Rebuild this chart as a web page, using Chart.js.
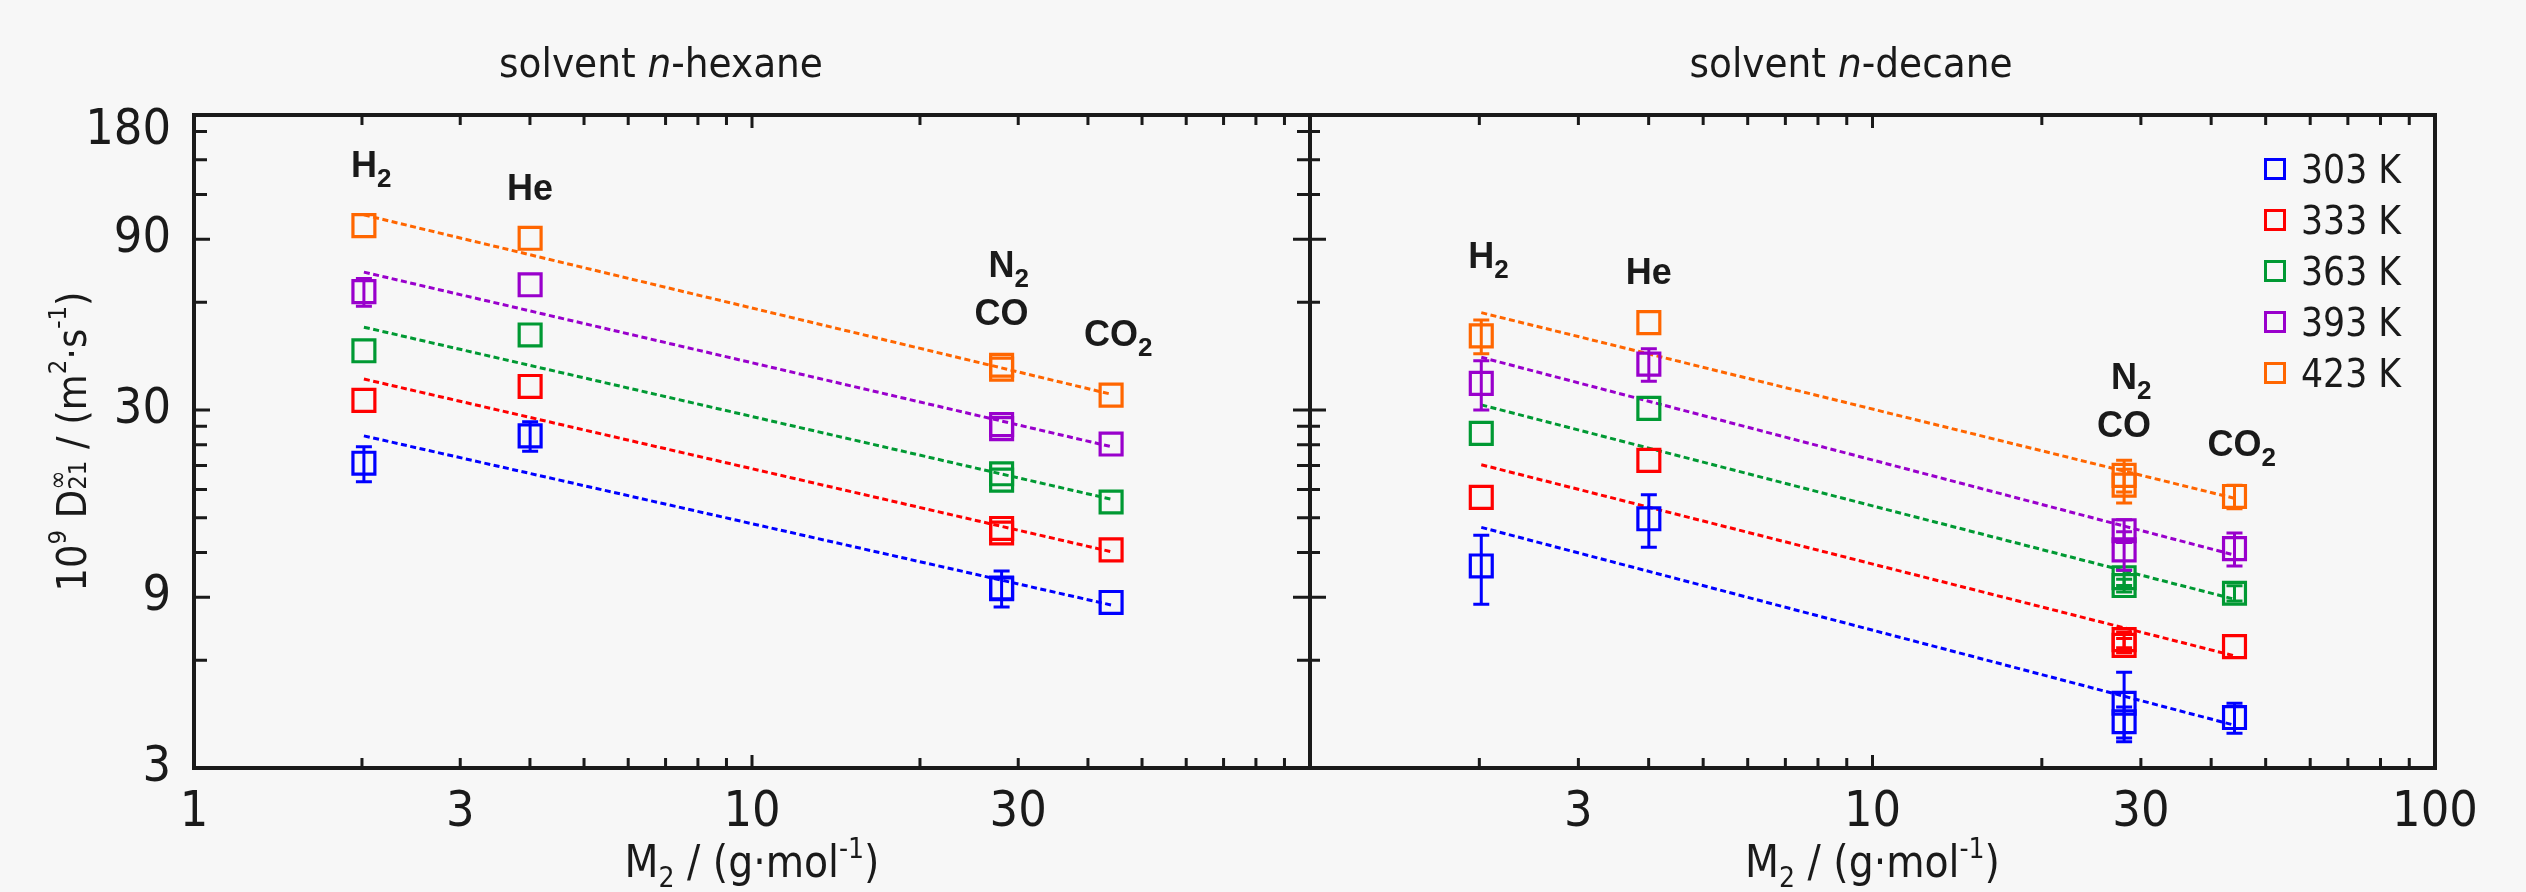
<!DOCTYPE html>
<html>
<head>
<meta charset="utf-8">
<script src="https://cdn.jsdelivr.net/npm/chart.js@4.4.1/dist/chart.umd.min.js"></script>
<style>
  html, body { margin: 0; padding: 0; background: #f7f7f7; }
  #wrap { position: relative; width: 2526px; height: 892px; }
  canvas { position: absolute; left: 0; top: 0; }
</style>
</head>
<body>
<div id="wrap">
  <canvas id="hexane" width="2526" height="892"></canvas>
  <canvas id="decane" width="2526" height="892"></canvas>
</div>
<script>
// solutes: H2, He, N2, CO, CO2 (molar mass in g/mol)
const gases = ['H2', 'He', 'N2', 'CO', 'CO2'];
const molarMass = [2.016, 4.003, 28.01, 28.01, 44.01];
const temperatures = [303, 333, 363, 393, 423];
const colors = ['#0000ff', '#ff0000', '#009933', '#9900cc', '#ff6600'];

// solvent n-hexane, 10^9 D21 / (m2/s)
const hexane303 = [21.3, 25.4, 9.55, 9.5, 8.7];
const hexane333 = [31.9, 34.9, 14.0, 13.6, 12.2];
const hexane363 = [43.9, 48.6, 19.9, 19.1, 16.6];
const hexane393 = [64.2, 67.1, 27.3, 26.6, 24.1];
const hexane423 = [98.2, 90.5, 40.0, 39.0, 33.0];
const hexaneErr303 = [2.4, 2.4, 1.1, 0, 0];
const hexaneErr333 = [0, 0, 0, 0, 0];
const hexaneErr363 = [0, 0, 0, 0, 0];
const hexaneErr393 = [5.7, 0, 0, 0, 0];
const hexaneErr423 = [0, 0, 0, 0, 0];

// solvent n-decane
const decane303 = [11.0, 14.9, 4.55, 4.04, 4.15];
const decane333 = [17.1, 21.7, 6.85, 6.6, 6.55];
const decane363 = [25.8, 30.3, 10.2, 9.7, 9.23];
const decane393 = [35.6, 40.3, 13.8, 12.2, 12.3];
const decane423 = [48.3, 52.6, 19.7, 18.5, 17.2];
const decaneErr303 = [2.4, 2.5, 1.0, 0.4, 0.4];
const decaneErr333 = [0, 0, 0.35, 0.3, 0];
const decaneErr363 = [0, 0, 0.5, 0.4, 0.45];
const decaneErr393 = [5.6, 4.2, 1.0, 1.5, 1.3];
const decaneErr423 = [5.2, 0, 2.0, 2.0, 1.3];

// fitted lines, from H2 to CO2
const fitMass = [2.016, 44.01];
const hexaneFit303 = [25.4, 8.56];
const hexaneFit333 = [36.6, 12.06];
const hexaneFit363 = [51.1, 16.9];
const hexaneFit393 = [72.8, 23.7];
const hexaneFit423 = [105.2, 33.2];
const decaneFit303 = [14.1, 3.95];
const decaneFit333 = [21.1, 6.17];
const decaneFit363 = [31.0, 8.88];
const decaneFit393 = [42.1, 11.8];
const decaneFit423 = [56.1, 17.0];

// axes
const xTicksHexane = [1, 3, 10, 30];
const xTicksDecane = [3, 10, 30, 100];
const yTickLabels = [3, 9, 30, 90, 180];
const xMinor = [2, 3, 4, 5, 6, 7, 8, 9, 20, 30, 40, 50, 60, 70, 80, 90];
const xMajor = [10];
const yMinor = [6, 12, 15, 18, 21, 24, 27, 60, 120, 150, 180];
const yMajor = [9, 30, 90];

const family = '"Liberation Sans", Arial, Helvetica, sans-serif';
const ink = '#1a1a1a';

// use a condensed face for most texts when one is installed
function hasFont(name) {
  const c = document.createElement('canvas').getContext('2d');
  c.font = '40px monospace';
  const w0 = c.measureText('180 Kmgl').width;
  c.font = '40px "' + name + '", monospace';
  return Math.abs(c.measureText('180 Kmgl').width - w0) > 0.5;
}
let narrow = null;
for (const f of ['Liberation Sans Narrow', 'Arial Narrow', 'DejaVu Sans Condensed']) {
  if (hasFont(f)) { narrow = '"' + f + '", ' + family; break; }
}
const condensed = narrow || family;
const measureCtx = document.createElement('canvas').getContext('2d');

function fontOf(p) {
  return (p.i ? 'italic ' : '') + (p.b ? 'bold ' : '') + p.s + 'px ' + (p.f || condensed);
}

function richWidth(parts) {
  let w = 0;
  for (const p of parts) {
    measureCtx.font = fontOf(p);
    if (!p.skip) w += measureCtx.measureText(p.t).width;
  }
  return w;
}

// size a piece of text so that it is as wide as in the picture
function fitted(make, width) {
  return make(100 * width / richWidth(make(100)));
}

// draws text made of pieces (sub/superscripts); pieces with skip do not advance,
// pieces with tail are left out when centring
function drawRich(ctx, parts, x, y, align) {
  let w = 0;
  for (const p of parts) {
    ctx.font = fontOf(p);
    p.w = ctx.measureText(p.t).width;
    if (!p.skip && !p.tail) w += p.w;
  }
  let cx = align === 'center' ? x - w / 2 : x;
  ctx.textAlign = 'left';
  ctx.textBaseline = 'alphabetic';
  for (const p of parts) {
    ctx.font = fontOf(p);
    ctx.fillText(p.t, cx, y + (p.dy || 0));
    if (!p.skip) cx += p.w;
  }
}

const titleSize = fitted(S => [{t: 'solvent ', s: S}, {t: 'n', s: S, i: true}, {t: '-hexane', s: S}], 324)[0].s;
const xTitleParts = fitted(S => [{t: 'M', s: S}, {t: '2', s: 0.64 * S, dy: 0.23 * S}, {t: ' / (g\u00b7mol', s: S},
                                 {t: '-1', s: 0.64 * S, dy: -0.43 * S}, {t: ')', s: S}], 255);
const yTitleParts = fitted(S => [{t: '10', s: S}, {t: '9', s: 0.62 * S, dy: -0.48 * S}, {t: ' D', s: S},
                                 {t: '\u221e', s: 0.62 * S, dy: -0.48 * S, skip: true}, {t: '21', s: 0.62 * S},
                                 {t: ' / (m', s: S}, {t: '2', s: 0.62 * S, dy: -0.48 * S}, {t: '\u00b7s', s: S},
                                 {t: '-1', s: 0.62 * S, dy: -0.48 * S}, {t: ')', s: S}], 300);
const legendSize = fitted(S => [{t: '303 K', s: S}], 100)[0].s;
const tickSize = narrow ? 50 : 46;

function gasParts(name) {
  const bold = 36;
  if (name.endsWith('2')) {
    return [{t: name.slice(0, -1), s: bold, b: true, f: family},
            {t: '2', s: 26, b: true, dy: 10, tail: true, f: family}];
  }
  return [{t: name, s: bold, b: true, f: family}];
}

function makeDatasets(values, errors, fits) {
  const sets = [];
  temperatures.forEach((t, i) => {
    sets.push({
      type: 'line',
      data: fitMass.map((m, j) => ({x: m, y: fits[i][j]})),
      borderColor: colors[i],
      borderWidth: 3,
      borderDash: [6, 3.5],
      pointRadius: 0,
      fill: false,
      showLine: true,
      order: 2
    });
  });
  temperatures.forEach((t, i) => {
    sets.push({
      type: 'scatter',
      label: t + ' K',
      data: molarMass.map((m, j) => ({x: m, y: values[i][j]})),
      errors: errors[i],
      borderColor: colors[i],
      backgroundColor: 'rgba(0,0,0,0)',
      pointStyle: 'rect',
      pointRadius: 15.5,
      pointHoverRadius: 15.5,
      pointBorderWidth: 3.2,
      showLine: false,
      order: 1
    });
  });
  return sets;
}

const errorBars = {
  id: 'errorBars',
  afterDatasetsDraw(chart) {
    const {ctx, scales: {x, y}} = chart;
    ctx.save();
    ctx.lineWidth = 3;
    chart.data.datasets.forEach(ds => {
      if (!ds.errors) return;
      ctx.strokeStyle = ds.borderColor;
      ds.data.forEach((p, j) => {
        const e = ds.errors[j];
        if (!e) return;
        const px = x.getPixelForValue(p.x);
        const top = y.getPixelForValue(p.y + e);
        const bot = y.getPixelForValue(p.y - e);
        ctx.beginPath();
        ctx.moveTo(px, top); ctx.lineTo(px, bot);
        ctx.moveTo(px - 8, top); ctx.lineTo(px + 8, top);
        ctx.moveTo(px - 8, bot); ctx.lineTo(px + 8, bot);
        ctx.stroke();
      });
    });
    ctx.restore();
  }
};

function framePlugin(leftTicks, rightTicks) {
  return {
    id: 'frame',
    afterDraw(chart) {
      const {ctx, chartArea: a, scales: {x, y}} = chart;
      ctx.save();
      ctx.strokeStyle = ink;
      ctx.lineWidth = 3;
      ctx.beginPath();
      for (const v of xMinor.concat(xMajor)) {
        const px = x.getPixelForValue(v);
        const len = xMajor.includes(v) ? 13 : 10;
        ctx.moveTo(px, a.bottom); ctx.lineTo(px, a.bottom - len);
        ctx.moveTo(px, a.top); ctx.lineTo(px, a.top + len);
      }
      for (const v of yMinor.concat(yMajor)) {
        const py = y.getPixelForValue(v);
        const major = yMajor.includes(v);
        if (leftTicks) { ctx.moveTo(a.left, py); ctx.lineTo(a.left + (major ? 16 : 13), py); }
        if (rightTicks) { ctx.moveTo(a.right - (major ? 17 : 13), py); ctx.lineTo(a.right + (major ? 16 : 10), py); }
      }
      ctx.stroke();
      ctx.lineWidth = 4;
      ctx.strokeRect(a.left, a.top, a.right - a.left, a.bottom - a.top);
      ctx.restore();
    }
  };
}

function textPlugin(cfg) {
  return {
    id: 'texts',
    afterDraw(chart) {
      const {ctx, chartArea: a, scales: {x, y}} = chart;
      ctx.save();
      ctx.fillStyle = ink;
      drawRich(ctx, cfg.title, cfg.titleX, 77, 'center');
      drawRich(ctx, xTitleParts, (a.left + a.right) / 2, 877, 'center');
      cfg.labels.forEach(l => {
        drawRich(ctx, gasParts(l.gas), x.getPixelForValue(l.x), y.getPixelForValue(l.y), 'center');
      });
      if (cfg.yTitle) {
        ctx.translate(86, (a.top + a.bottom) / 2);
        ctx.rotate(-Math.PI / 2);
        drawRich(ctx, yTitleParts, 0, 0, 'center');
      }
      ctx.restore();
    }
  };
}

const legendBox = {
  id: 'legendBox',
  afterDraw(chart) {
    const ctx = chart.ctx;
    ctx.save();
    const items = chart.data.datasets.filter(d => d.label);
    items.forEach((d, i) => {
      const cy = 169 + 51 * i;
      ctx.strokeStyle = d.borderColor;
      ctx.lineWidth = 3;
      ctx.strokeRect(2265.5, cy - 9.5, 19, 19);
      ctx.fillStyle = ink;
      ctx.font = legendSize + 'px ' + condensed;
      ctx.textAlign = 'left';
      ctx.textBaseline = 'alphabetic';
      ctx.fillText(d.label, 2301, cy + 14);
    });
    ctx.restore();
  }
};

function panelOptions(xTicks, yWidth, padRight, showYLabels) {
  return {
    responsive: false,
    animation: false,
    devicePixelRatio: 1,
    events: [],
    layout: {padding: {left: 0, top: 115, right: padRight, bottom: 0}},
    plugins: {legend: {display: false}, tooltip: {enabled: false}, title: {display: false}},
    scales: {
      x: {
        type: 'logarithmic', position: 'bottom', min: 1, max: 100,
        grid: {display: false}, border: {display: false},
        afterBuildTicks: s => { s.ticks = xTicks.map(v => ({value: v})); },
        afterFit: s => { s.height = 124; },
        ticks: {
          autoSkip: false, maxRotation: 0, padding: 7, color: ink,
          font: {family: condensed, size: tickSize},
          callback: v => String(v)
        }
      },
      y: {
        type: 'logarithmic', position: 'left', min: 3, max: 200,
        grid: {display: false}, border: {display: false},
        afterBuildTicks: s => { s.ticks = yTickLabels.map(v => ({value: v})); },
        afterFit: s => { s.width = yWidth; },
        ticks: {
          display: showYLabels, autoSkip: false, padding: 15, color: ink,
          font: {family: condensed, size: tickSize},
          callback: v => String(v)
        }
      }
    }
  };
}

const hexaneChart = new Chart(document.getElementById('hexane'), {
  type: 'scatter',
  data: {
    datasets: makeDatasets(
      [hexane303, hexane333, hexane363, hexane393, hexane423],
      [hexaneErr303, hexaneErr333, hexaneErr363, hexaneErr393, hexaneErr423],
      [hexaneFit303, hexaneFit333, hexaneFit363, hexaneFit393, hexaneFit423])
  },
  options: panelOptions(xTicksHexane, 194, 2526 - 1310, true),
  plugins: [errorBars, framePlugin(true, true), textPlugin({
    title: [{t: 'solvent ', s: titleSize}, {t: 'n', s: titleSize, i: true}, {t: '-hexane', s: titleSize}],
    titleX: 661,
    yTitle: true,
    labels: [
      {gas: 'H2', x: 2.016, y: 134},
      {gas: 'He', x: 4.003, y: 115.6},
      {gas: 'N2', x: 28.01, y: 70.4},
      {gas: 'CO', x: 28.01, y: 51.7},
      {gas: 'CO2', x: 44.01, y: 45.4}
    ]
  })]
});

const decaneChart = new Chart(document.getElementById('decane'), {
  type: 'scatter',
  data: {
    datasets: makeDatasets(
      [decane303, decane333, decane363, decane393, decane423],
      [decaneErr303, decaneErr333, decaneErr363, decaneErr393, decaneErr423],
      [decaneFit303, decaneFit333, decaneFit363, decaneFit393, decaneFit423])
  },
  options: panelOptions(xTicksDecane, 1310, 2526 - 2435, false),
  plugins: [errorBars, framePlugin(false, false), legendBox, textPlugin({
    title: [{t: 'solvent ', s: titleSize}, {t: 'n', s: titleSize, i: true}, {t: '-decane', s: titleSize}],
    titleX: 1851,
    yTitle: false,
    labels: [
      {gas: 'H2', x: 2.016, y: 74.6},
      {gas: 'He', x: 4.003, y: 67.4},
      {gas: 'N2', x: 28.01, y: 34.4},
      {gas: 'CO', x: 28.01, y: 25.2},
      {gas: 'CO2', x: 44.01, y: 22.3}
    ]
  })]
});
</script>
</body>
</html>
